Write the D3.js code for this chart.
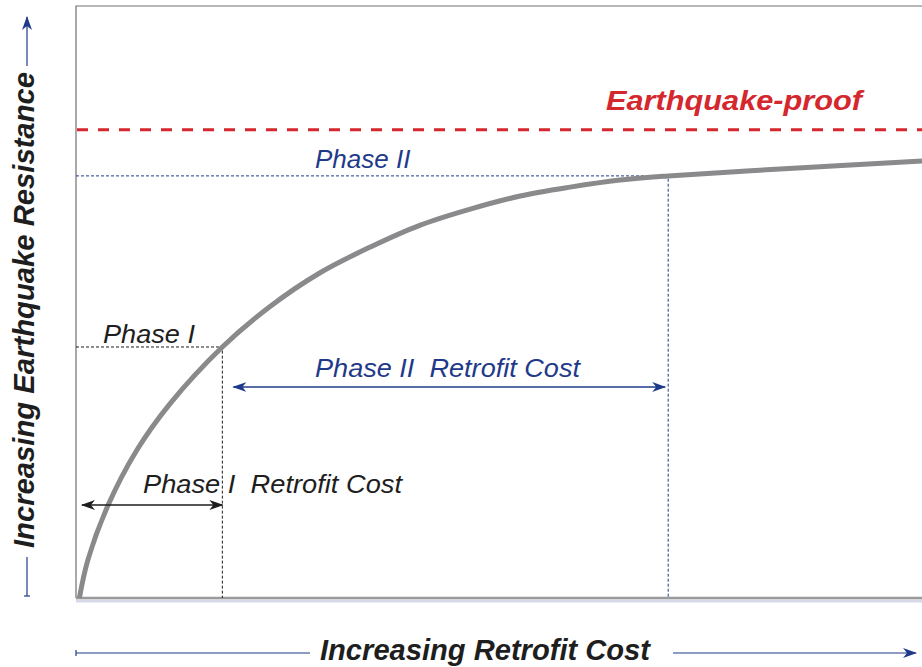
<!DOCTYPE html>
<html>
<head>
<meta charset="utf-8">
<script src="https://cdn.jsdelivr.net/npm/d3@7"></script>
<style>
  body { margin: 0; background: #fff; }
  text { font-family: "Liberation Sans", Arial, sans-serif; font-style: italic; white-space: pre; }
</style>
</head>
<body>
<div id="main"></div>
<script>
// chart size
var width = 922;
var height = 667;

// curve (cost vs resistance, 0..100 both ways)
const retrofitCost = [0.4, 1.4, 3.8, 7.2, 11.1, 17.3, 22.9, 28.8, 34.8, 40.7, 46.6, 52.5, 58.4, 64.3, 70.0, 84.8, 100];
const resistance   = [0, 6.4, 15.7, 25, 32.8, 42.4, 49.2, 54.9, 59.3, 63.0, 65.7, 67.9, 69.4, 70.6, 71.3, 72.6, 73.8];

// levels and phase points
const levelNames  = ["Earthquake-proof", "Phase II", "Phase I"];
const levelValues = [79.1, 71.3, 42.4];
const phaseCosts  = [17.3, 70.0];   // phase I, phase II end cost

const xTitle = "Increasing Retrofit Cost";
const yTitle = "Increasing Earthquake Resistance";
const phase1CostLabel = "Phase I  Retrofit Cost";
const phase2CostLabel = "Phase II  Retrofit Cost";

const blue = "#1f3a8a";
const red = "#d4272e";
const dark = "#1e1e1e";

const svg = d3.select('#main').append('svg')
  .attr('width', width).attr('height', height);

// arrow markers
function marker(id, color){
  svg.append('defs').append('marker')
    .attr('id', id).attr('viewBox', '0 0 14 10')
    .attr('refX', 13).attr('refY', 5)
    .attr('markerWidth', 14).attr('markerHeight', 10)
    .attr('markerUnits', 'userSpaceOnUse')
    .attr('orient', 'auto-start-reverse')
    .append('path').attr('d', 'M0,0 L14,5 L0,10 L4,5 Z').attr('fill', color);
}
marker('arrBlue', blue);
marker('arrDark', dark);

// scales
var xScale = d3.scaleLinear().domain([0, 100]).range([76, 922]);
var yScale = d3.scaleLinear().domain([0, 100]).range([598, 6]);

// frame (left + top)
svg.append('path')
  .attr('d', "M" + xScale(100) + "," + yScale(100) + " H" + xScale(0) + " V" + yScale(0))
  .attr('fill', 'none').attr('stroke', '#707070').attr('stroke-width', 1.2);

// bottom axis with a soft shadow
svg.append('line').attr('x1', xScale(0)).attr('x2', xScale(100))
  .attr('y1', yScale(0) + 3).attr('y2', yScale(0) + 3)
  .attr('stroke', '#d6d9e8').attr('stroke-width', 3);
svg.append('line').attr('x1', xScale(0)).attr('x2', xScale(100))
  .attr('y1', yScale(0)).attr('y2', yScale(0))
  .attr('stroke', '#9a9a9a').attr('stroke-width', 2.5);

// earthquake-proof line
svg.append('line')
  .attr('x1', xScale(0)).attr('x2', xScale(100))
  .attr('y1', yScale(levelValues[0])).attr('y2', yScale(levelValues[0]))
  .attr('stroke', red).attr('stroke-width', 3)
  .attr('stroke-dasharray', '11,10').attr('stroke-dashoffset', -1);

// phase guide lines
var guides = [
  {cost: phaseCosts[0], level: levelValues[2], color: dark},
  {cost: phaseCosts[1], level: levelValues[1], color: blue}
];
svg.append('g').selectAll('path').data(guides).enter().append('path')
  .attr('d', function(d){
    return "M" + xScale(0) + "," + yScale(d.level) + " H" + xScale(d.cost) + " V" + yScale(0);
  })
  .attr('fill', 'none').attr('stroke', function(d){ return d.color; })
  .attr('stroke-width', 1).attr('stroke-dasharray', '3,2');

// the curve
var line = d3.line()
  .x(function(d, i){ return xScale(retrofitCost[i]); })
  .y(function(d){ return yScale(d); })
  .curve(d3.curveCatmullRom.alpha(0.5));
svg.append('path').datum(resistance)
  .attr('d', line)
  .attr('fill', 'none').attr('stroke', '#8a8a8c').attr('stroke-width', 5);

// cost arrows
svg.append('line')
  .attr('x1', xScale(0.7)).attr('x2', xScale(phaseCosts[0]))
  .attr('y1', 505).attr('y2', 505)
  .attr('stroke', dark).attr('stroke-width', 1.3)
  .attr('marker-start', 'url(#arrDark)').attr('marker-end', 'url(#arrDark)');
svg.append('line')
  .attr('x1', xScale(phaseCosts[0]) + 11).attr('x2', xScale(phaseCosts[1]) - 3)
  .attr('y1', 387).attr('y2', 387)
  .attr('stroke', blue).attr('stroke-width', 1.3)
  .attr('marker-start', 'url(#arrBlue)').attr('marker-end', 'url(#arrBlue)');

// labels
svg.append('text').text(levelNames[0])
  .attr('x', 606).attr('y', yScale(levelValues[0]) - 20)
  .attr('fill', red).attr('font-weight', 'bold').attr('font-size', 28)
  .attr('textLength', 256).attr('lengthAdjust', 'spacingAndGlyphs');

svg.append('text').text(levelNames[1])
  .attr('x', 315).attr('y', yScale(levelValues[1]) - 8)
  .attr('fill', blue).attr('font-size', 26);

svg.append('text').text(levelNames[2])
  .attr('x', 103).attr('y', yScale(levelValues[2]) - 4)
  .attr('fill', dark).attr('font-size', 26)
  .attr('textLength', 92).attr('lengthAdjust', 'spacingAndGlyphs');

svg.append('text').text(phase2CostLabel)
  .attr('x', 315).attr('y', 377)
  .attr('fill', blue).attr('font-size', 26)
  .attr('textLength', 265).attr('lengthAdjust', 'spacingAndGlyphs');

svg.append('text').text(phase1CostLabel)
  .attr('x', 143).attr('y', 493)
  .attr('fill', dark).attr('font-size', 26)
  .attr('textLength', 259).attr('lengthAdjust', 'spacingAndGlyphs');

// axis titles with arrows
svg.append('text').text(xTitle)
  .attr('x', 320).attr('y', 660)
  .attr('fill', dark).attr('font-weight', 'bold').attr('font-size', 29)
  .attr('textLength', 330).attr('lengthAdjust', 'spacingAndGlyphs');

svg.append('line').attr('x1', 76).attr('x2', 310).attr('y1', 653).attr('y2', 653)
  .attr('stroke', blue).attr('stroke-width', 1.2);
svg.append('line').attr('x1', 76).attr('x2', 76).attr('y1', 650).attr('y2', 656)
  .attr('stroke', blue).attr('stroke-width', 1.2);
svg.append('line').attr('x1', 673).attr('x2', 916).attr('y1', 653).attr('y2', 653)
  .attr('stroke', blue).attr('stroke-width', 1.2)
  .attr('marker-end', 'url(#arrBlue)');

svg.append('text').text(yTitle)
  .attr('transform', 'translate(34,548) rotate(-90)')
  .attr('fill', dark).attr('font-weight', 'bold').attr('font-size', 30)
  .attr('textLength', 476).attr('lengthAdjust', 'spacingAndGlyphs');

svg.append('line').attr('x1', 27).attr('x2', 27).attr('y1', 596).attr('y2', 557)
  .attr('stroke', blue).attr('stroke-width', 1.2);
svg.append('line').attr('x1', 24).attr('x2', 30).attr('y1', 596).attr('y2', 596)
  .attr('stroke', blue).attr('stroke-width', 1.2);
svg.append('line').attr('x1', 27).attr('x2', 27).attr('y1', 66).attr('y2', 17)
  .attr('stroke', blue).attr('stroke-width', 1.2)
  .attr('marker-end', 'url(#arrBlue)');
</script>
</body>
</html>
